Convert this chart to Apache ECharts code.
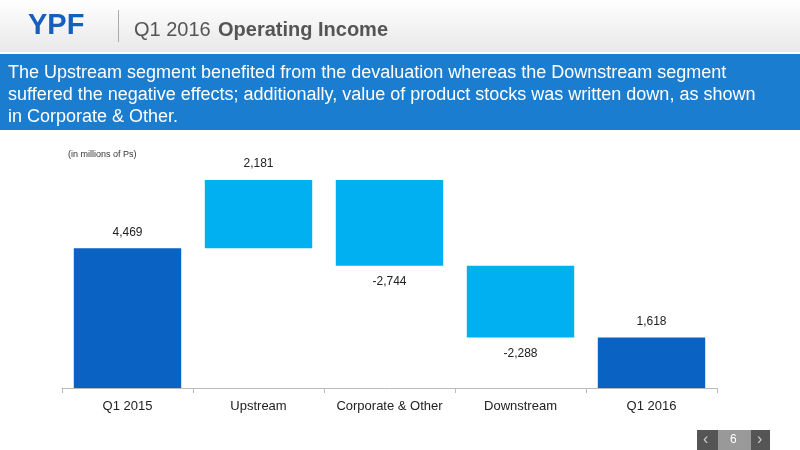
<!DOCTYPE html>
<html><head><meta charset="utf-8">
<script src="https://cdn.jsdelivr.net/npm/echarts@6/dist/echarts.min.js"></script>
<style>body{margin:0}#c{width:800px;height:450px}</style></head>
<body><div id="c"></div>
<script>
var categories = ['Q1 2015','Upstream','Corporate & Other','Downstream','Q1 2016'];
var changes = [4469, 2181, -2744, -2288, 1618];
var isTotal = [true, false, false, false, true];

// base (invisible) and visible heights for the waterfall
var base = [], height = [], labels = [];
var run = 0;
for (var i = 0; i < changes.length; i++) {
    if (isTotal[i]) {
        base.push(0); height.push(changes[i]); run = changes[i];
    } else if (changes[i] >= 0) {
        base.push(run); height.push(changes[i]); run += changes[i];
    } else {
        run += changes[i]; base.push(run); height.push(-changes[i]);
    }
    labels.push(changes[i]);
}
function fmt(v){ return v.toLocaleString('en-US'); }

var chart = echarts.init(document.getElementById('c'));
chart.setOption({
    backgroundColor: '#fff',
    textStyle: {fontFamily: 'Liberation Sans, Arial'},
    graphic: [
        {type:'rect', shape:{x:0,y:0,width:800,height:52}, style:{fill:new echarts.graphic.LinearGradient(0,0,0,1,[{offset:0,color:'#ffffff'},{offset:1,color:'#e8e8e8'}])}},
        {type:'text', left:28, top:11, style:{text:'YPF', fill:'#1560bd', font:'900 29px Liberation Sans'}},
        {type:'rect', shape:{x:118,y:10,width:1,height:32}, style:{fill:'#aaa'}},
        {type:'text', left:134, top:20, style:{text:'Q1 2016', fill:'#555', font:'20px Liberation Sans'}},
        {type:'text', left:218, top:20, style:{text:'Operating Income', fill:'#555', font:'bold 20px Liberation Sans'}},
        {type:'rect', shape:{x:0,y:54,width:800,height:76}, style:{fill:'#1a7dcf'}},
        {type:'text', left:8, top:62, style:{text:'The Upstream segment benefited from the devaluation whereas the Downstream segment\nsuffered the negative effects; additionally, value of product stocks was written down, as shown\nin Corporate & Other.', fill:'#fff', font:'18px Liberation Sans', lineHeight:22}},
        {type:'text', left:68, top:150, style:{text:'(in millions of Ps)', fill:'#333', font:'9px Liberation Sans'}},
        {type:'rect', shape:{x:697,y:430,width:21,height:20}, style:{fill:'#555'}},
        {type:'rect', shape:{x:718,y:430,width:33,height:20}, style:{fill:'#999'}},
        {type:'rect', shape:{x:751,y:430,width:19,height:20}, style:{fill:'#555'}},
        {type:'text', left:703, top:432, style:{text:'‹', fill:'#ccc', font:'16px Liberation Sans'}},
        {type:'text', left:730, top:434, style:{text:'6', fill:'#fff', font:'12px Liberation Sans'}},
        {type:'text', left:757, top:432, style:{text:'›', fill:'#ccc', font:'16px Liberation Sans'}}
    ],
    grid: {left: 62, right: 83, top: 170, bottom: 62},
    xAxis: {
        type: 'category', data: categories,
        axisLine: {lineStyle: {color: '#bbb'}},
        axisTick: {show: true, interval: 0, lineStyle: {color: '#bbb'}},
        axisLabel: {interval: 0, color: '#222', fontSize: 13, margin: 12}
    },
    yAxis: {type: 'value', min: 0, max: 6970, show: false, splitLine: {show: false}},
    series: [
        {type: 'bar', stack: 'w', data: base, itemStyle: {color: 'transparent'}, barWidth: '82%', silent: true},
        {type: 'bar', stack: 'w', barWidth: '82%',
         data: height.map(function(h, i){
             return {
                 value: h,
                 itemStyle: {color: isTotal[i] ? '#0a62c2' : '#00b0f0'},
                 label: {show: true, position: labels[i] < 0 ? 'bottom' : 'top', distance: 10,
                         formatter: fmt(labels[i]), color: '#222', fontSize: 12}
             };
         })}
    ]
});
</script></body></html>
